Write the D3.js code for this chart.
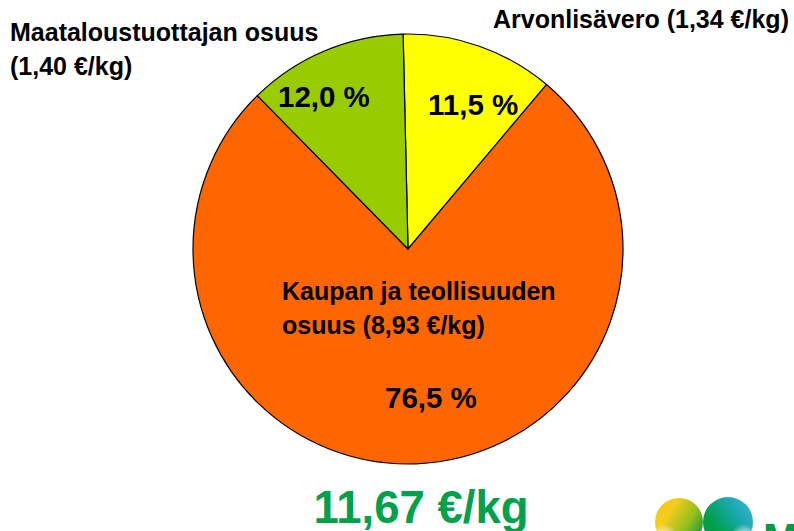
<!DOCTYPE html>
<html>
<head>
<meta charset="utf-8">
<script src="https://cdn.jsdelivr.net/npm/d3@7"></script>
<style>
	html, body { margin: 0; padding: 0; background: #fff; }
	svg { display: block; font-family: "Liberation Sans", Arial, sans-serif; font-weight: bold; }
</style>
</head>
<body>
<div id="chart"></div>
<script>
// chart values
var categories = ['Arvonlisävero', 'Kaupan ja teollisuuden osuus', 'Maataloustuottajan osuus'];
var shares = [11.5, 76.5, 12.0];           // %
var prices = [1.34, 8.93, 1.40];           // €/kg
var totalPrice = 11.67;                    // €/kg
var colors = ['#ffff00', '#ff6600', '#99cc00'];

var options = {
	w: 794,
	h: 531,
	pie: { cx: 408, cy: 249, r: 215, start: -1.3 },   // start in degrees
	// label layout relative to pie centre: name label + percent label
	labels: [
		{ name: { x: 85, y: -221, lines: 1 }, pct: { x: 20, y: -134 } },
		{ name: { x: -126, y: 51, lines: 2 }, pct: { x: -23, y: 159 } },
		{ name: { x: -398, y: -208, lines: 2 }, pct: { x: -130, y: -142 } }
	]
};

function comma(v, f){ return d3.format(f)(v).replace('.', ','); }

function draw(){
	var svg = d3.select('#chart')
		.append('svg')
		.attr('width', options.w)
		.attr('height', options.h);

	var defs = svg.append('defs');

	var data = categories.map(function(c, i){
		return { name: c, share: shares[i], price: prices[i], color: colors[i] };
	});

	var start = options.pie.start * Math.PI / 180;
	var pie = d3.pie()
		.sort(null)
		.value(function(d){ return d.share; })
		.startAngle(start)
		.endAngle(start + 2 * Math.PI);

	var arc = d3.arc().innerRadius(0).outerRadius(options.pie.r);

	var g = svg.append('g')
		.attr('transform', 'translate(' + options.pie.cx + ',' + options.pie.cy + ')');

	g.selectAll('path.slice')
		.data(pie(data))
		.enter()
		.append('path')
		.attr('class', 'slice')
		.attr('d', arc)
		.attr('fill', function(d){ return d.data.color; })
		.attr('stroke', '#000')
		.attr('stroke-width', 1.2)
		.attr('stroke-linejoin', 'round');

	// name labels
	data.forEach(function(d, i){
		var L = options.labels[i];
		var priceTxt = '(' + comma(d.price, '.2f') + ' €/kg)';
		var lines;
		if (L.name.lines === 1) {
			lines = [d.name + ' ' + priceTxt];
		} else if (i === 1) {
			lines = ['Kaupan ja teollisuuden', 'osuus ' + priceTxt];
		} else {
			lines = [d.name, priceTxt];
		}
		var t = g.append('text')
			.attr('x', L.name.x)
			.attr('y', L.name.y)
			.attr('font-size', 25)
			.attr('fill', '#000');
		lines.forEach(function(s, k){
			t.append('tspan')
				.attr('x', L.name.x)
				.attr('dy', k === 0 ? 0 : 33.5)
				.text(s);
		});

		g.append('text')
			.attr('x', L.pct.x)
			.attr('y', L.pct.y)
			.attr('font-size', 29.5)
			.attr('fill', '#000')
			.text(comma(d.share, '.1f') + ' %');
	});

	// total price
	svg.append('text')
		.attr('x', 421)
		.attr('y', 523)
		.attr('text-anchor', 'middle')
		.attr('font-size', 45.5)
		.attr('fill', '#00a14b')
		.text(comma(totalPrice, '.2f') + ' €/kg');

	// logo (partially cut off at bottom right)
	var g1 = defs.append('linearGradient').attr('id', 'lg1')
		.attr('x1', '0').attr('y1', '0').attr('x2', '1').attr('y2', '0.6');
	g1.append('stop').attr('offset', '0.35').attr('stop-color', '#f6cc1c');
	g1.append('stop').attr('offset', '0.75').attr('stop-color', '#8fbf1e');
	g1.append('stop').attr('offset', '1').attr('stop-color', '#2f9e36');

	var g2 = defs.append('linearGradient').attr('id', 'lg2')
		.attr('x1', '0').attr('y1', '0.8').attr('x2', '1').attr('y2', '0.1');
	g2.append('stop').attr('offset', '0.25').attr('stop-color', '#00a04a');
	g2.append('stop').attr('offset', '0.6').attr('stop-color', '#14a7a0');
	g2.append('stop').attr('offset', '1').attr('stop-color', '#3cb4e0');

	var rg = defs.append('radialGradient').attr('id', 'hl')
		.attr('cx', '0.5').attr('cy', '0.5').attr('r', '0.5');
	rg.append('stop').attr('offset', '0').attr('stop-color', '#fff').attr('stop-opacity', 1);
	rg.append('stop').attr('offset', '1').attr('stop-color', '#fff').attr('stop-opacity', 0);

	svg.append('circle').attr('cx', 679).attr('cy', 522).attr('r', 24).attr('fill', 'url(#lg1)');
	svg.append('circle').attr('cx', 728).attr('cy', 522).attr('r', 25).attr('fill', 'url(#lg2)');
	svg.append('circle').attr('cx', 664).attr('cy', 538).attr('r', 14).attr('fill', 'url(#hl)');
	svg.append('circle').attr('cx', 744).attr('cy', 538).attr('r', 14).attr('fill', 'url(#hl)');

	svg.append('text')
		.attr('x', 763)
		.attr('y', 553)
		.attr('font-size', 42)
		.attr('fill', '#009a44')
		.text('MTK');
}

draw();
</script>
</body>
</html>
